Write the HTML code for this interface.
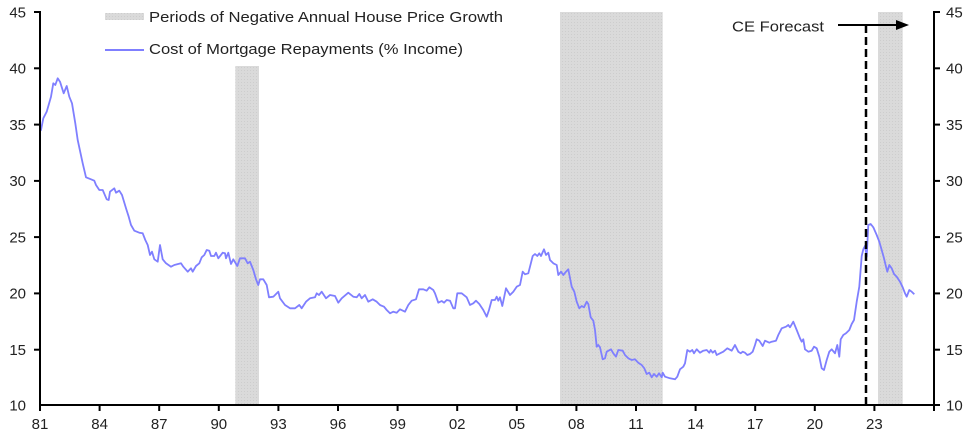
<!DOCTYPE html>
<html><head><meta charset="utf-8"><style>
html,body{margin:0;padding:0;background:#fff;}
svg{display:block;font-family:"Liberation Sans",Arial,sans-serif;}
</style></head><body>
<svg width="974" height="436" viewBox="0 0 974 436" xmlns="http://www.w3.org/2000/svg">
<defs>
<pattern id="dots" width="3" height="3" patternUnits="userSpaceOnUse">
<rect width="3" height="3" fill="#dadada"/>
<rect x="1" y="1" width="1" height="1" fill="#cdcdcd"/>
</pattern>
</defs>
<rect x="235.3" y="66" width="23.7" height="339" fill="url(#dots)"/>
<rect x="560" y="12" width="102.7" height="393" fill="url(#dots)"/>
<rect x="878" y="12" width="24.7" height="393" fill="url(#dots)"/>

<rect x="105" y="13" width="39" height="7" fill="url(#dots)"/>
<text x="149" y="22" font-size="15" fill="#222" textLength="354" lengthAdjust="spacingAndGlyphs">Periods of Negative Annual House Price Growth</text>
<line x1="105" y1="50" x2="144" y2="50" stroke="#7f7fff" stroke-width="2"/>
<text x="149" y="54" font-size="15" fill="#222" textLength="314" lengthAdjust="spacingAndGlyphs">Cost of Mortgage Repayments (% Income)</text>

<polyline fill="none" stroke="#7f7fff" stroke-width="1.8" stroke-linejoin="round" points="40,131 41,130 43.3,118.3 46.7,111.7 51,96.7 53.3,83.3 55.3,85 57.7,78.3 60,81.7 63.7,93.3 66.7,86 69.3,96.7 72,103.3 75.3,123.3 77.7,140 82.7,163.3 86,177.3 91,179.3 94.3,180.7 96,185 99.3,190 102.7,190 106.7,199.3 108.7,200 110,191.7 114.3,188.3 116,192.7 119.3,190.7 122,195 126,208.3 128.7,216.7 131,225 134.3,230.7 139.3,232.7 142.7,233.3 145.3,240 147.7,245 150,255 152,251.7 154.3,259.3 157.7,261.7 160,245 162.7,259.3 166,263.3 171,266.7 174.3,265 181,263.3 183.3,266.7 187.7,271.7 191,268.3 192.7,271.7 196,266 199.3,263.3 201.7,257.3 204.3,255 206.7,250 209.3,250.7 211,256 214.3,256 216,252.7 218.3,258.3 222.7,252.7 225,253.3 226,258.3 228.3,252.7 231,264 233.3,259.3 237.3,266 240,258.3 245,258.3 247.7,263.3 250,261.7 253.3,270 256,279.3 258.3,285 260,279.3 263.3,279.3 266.7,285 269,297.3 273.3,296.7 278.3,291.7 280,298.3 285,305 290,308.3 295,308.3 299.3,305 301.7,308.3 306,301.7 310,298.3 315,297.3 316.7,293.3 319,295 321.7,291.7 326,298.3 330,295 335,296 338.3,302.7 341.7,298.3 348.3,292.7 353.3,296.7 356.7,297.3 359.3,294 361.7,298.3 365,295 368.3,301.7 372.7,299.3 376.7,301.7 380,305 384,306.7 386.7,310 390,313.3 393.3,311.7 396.7,312.7 400,309.3 405,311.7 408.3,305 411.7,300.7 416,299.3 419,289.3 423.3,289.3 426.7,290.7 429.3,287.3 433.3,290 435,293.3 438.3,302.7 441.7,301 444,302.7 446.7,300 450,300.7 453.3,308.3 455,308.3 457.3,293.3 461.7,293.3 466.7,297.3 470,305 473.3,303.3 476,300.7 479.3,304 483.3,310 486.7,316.7 489,310 491.7,300 495,300 496.7,296.7 498.3,300.7 500,297.3 502.3,306 506,288.3 510,295 513.3,291.7 516.7,286.7 520,285 522.7,271.7 525,274.3 528.3,273.3 530,266.7 532.7,256 535,254 537.3,256 539.3,253.3 541,256 544,249.3 546,255 548.3,252.7 550,260 553.3,263.3 556.7,265 558.3,275 561,271.7 563.3,275 566,271.7 568.3,269.3 571.7,286.7 574.3,291.7 576.7,301.7 579.3,308.3 581.7,306 584,307.3 586.7,301.7 588.3,304 590.7,317.3 593.3,320.7 595,330 596.7,346.7 598.3,345 600,347.3 602.7,359.3 605,358.3 606.7,351.7 611,349.3 613.3,353.3 616,356.7 618.3,350 622.7,350.7 625,355 628.3,358.3 631.7,360 635,359.3 638.3,362.7 641.7,365 644.3,368.3 646.7,374 649.3,372.7 651.7,377.3 654,374 656.7,376.7 659,373.3 661.7,377.3 662.7,372.7 665,376.7 670,378.3 675,379.3 677.3,376.7 680,369.3 683.3,366.7 685,363.3 687.3,350 690,351.7 692.3,350 694,353.3 696.7,349.3 700,352.7 703.3,350.7 706.7,350 709.3,352.7 710.7,350 712.7,352.7 715,350.7 716.7,355 720,353.3 723.3,351.7 727.3,348.3 731.7,350.7 735,345 738.3,351.7 740.7,353.3 742.7,351.7 745,352.7 747.3,355 750,354 752.7,351.7 755,345 756.7,339.3 759.3,340.7 762.7,346 765,340.7 769.3,342.7 771.7,341.7 776,340.7 778.3,335 781.7,328.3 786,326.7 788.3,325 790,327.3 793.3,321.7 796.7,330 800,338.3 801.7,341.7 803.3,339.3 805,349.3 808.3,351.7 811.7,350.7 814,346.7 816.7,348.3 819.3,356.7 821.7,368.3 824,370 826.7,360 829.3,351.7 831.7,349.3 835,353.3 837.3,345 839.3,356.7 840.7,339.3 843.3,335 846,333.3 849.3,330 851.7,324 854,320 856.7,301.7 859.3,286.7 861.7,256 863.3,249.3 865,246 866.7,256.7 868.3,225 870.7,224 873.3,227.3 876.7,235 879.3,241.7 881.7,250 884,258.3 886,266.7 887.3,271.7 889.3,265 891.7,268.3 894,274 896.7,276.7 900,281.7 902.7,287.3 905,293.3 906.7,296.7 909.3,290 911.7,291.7 914.3,294.3"/>

<line x1="866" y1="25" x2="866" y2="405" stroke="#000" stroke-width="2.5" stroke-dasharray="8,4"/>
<line x1="838" y1="25" x2="898" y2="25" stroke="#000" stroke-width="2"/>
<polygon points="896,20 909,25 896,30" fill="#000"/>
<text x="732" y="31.5" font-size="15" fill="#222" textLength="92" lengthAdjust="spacingAndGlyphs">CE Forecast</text>

<g stroke="#000" stroke-width="2">
<line x1="40" y1="11" x2="40" y2="406"/>
<line x1="934" y1="11" x2="934" y2="406"/>
<line x1="39" y1="405" x2="935" y2="405"/>
</g>
<g stroke="#000" stroke-width="2">
<line x1="34" y1="12" x2="40" y2="12"/><line x1="34" y1="68.3" x2="40" y2="68.3"/><line x1="34" y1="124.6" x2="40" y2="124.6"/><line x1="34" y1="180.9" x2="40" y2="180.9"/><line x1="34" y1="237.1" x2="40" y2="237.1"/><line x1="34" y1="293.4" x2="40" y2="293.4"/><line x1="34" y1="349.7" x2="40" y2="349.7"/>
<line x1="934" y1="12" x2="940" y2="12"/><line x1="934" y1="68.3" x2="940" y2="68.3"/><line x1="934" y1="124.6" x2="940" y2="124.6"/><line x1="934" y1="180.9" x2="940" y2="180.9"/><line x1="934" y1="237.1" x2="940" y2="237.1"/><line x1="934" y1="293.4" x2="940" y2="293.4"/><line x1="934" y1="349.7" x2="940" y2="349.7"/><line x1="934" y1="405" x2="940" y2="405"/>
<line x1="40" y1="405" x2="40" y2="411"/><line x1="99.6" y1="405" x2="99.6" y2="411"/><line x1="159.2" y1="405" x2="159.2" y2="411"/><line x1="218.8" y1="405" x2="218.8" y2="411"/><line x1="278.4" y1="405" x2="278.4" y2="411"/><line x1="338" y1="405" x2="338" y2="411"/><line x1="397.6" y1="405" x2="397.6" y2="411"/><line x1="457.2" y1="405" x2="457.2" y2="411"/><line x1="516.8" y1="405" x2="516.8" y2="411"/><line x1="576.4" y1="405" x2="576.4" y2="411"/><line x1="636" y1="405" x2="636" y2="411"/><line x1="695.6" y1="405" x2="695.6" y2="411"/><line x1="755.2" y1="405" x2="755.2" y2="411"/><line x1="814.8" y1="405" x2="814.8" y2="411"/><line x1="874.4" y1="405" x2="874.4" y2="411"/><line x1="934" y1="405" x2="934" y2="411"/>
</g>
<g font-size="15" fill="#222" text-anchor="end">
<text x="26" y="17.3">45</text><text x="26" y="73.6">40</text><text x="26" y="129.9">35</text><text x="26" y="186.2">30</text><text x="26" y="242.4">25</text><text x="26" y="298.7">20</text><text x="26" y="355">15</text><text x="26" y="410.5">10</text>
</g>
<g font-size="15" fill="#222">
<text x="946" y="17.3">45</text><text x="946" y="73.6">40</text><text x="946" y="129.9">35</text><text x="946" y="186.2">30</text><text x="946" y="242.4">25</text><text x="946" y="298.7">20</text><text x="946" y="355">15</text><text x="946" y="410.5">10</text>
</g>
<g font-size="15" fill="#222" text-anchor="middle">
<text x="40" y="429">81</text><text x="99.6" y="429">84</text><text x="159.2" y="429">87</text><text x="218.8" y="429">90</text><text x="278.4" y="429">93</text><text x="338" y="429">96</text><text x="397.6" y="429">99</text><text x="457.2" y="429">02</text><text x="516.8" y="429">05</text><text x="576.4" y="429">08</text><text x="636" y="429">11</text><text x="695.6" y="429">14</text><text x="755.2" y="429">17</text><text x="814.8" y="429">20</text><text x="874.4" y="429">23</text>
</g>
</svg>
</body></html>
